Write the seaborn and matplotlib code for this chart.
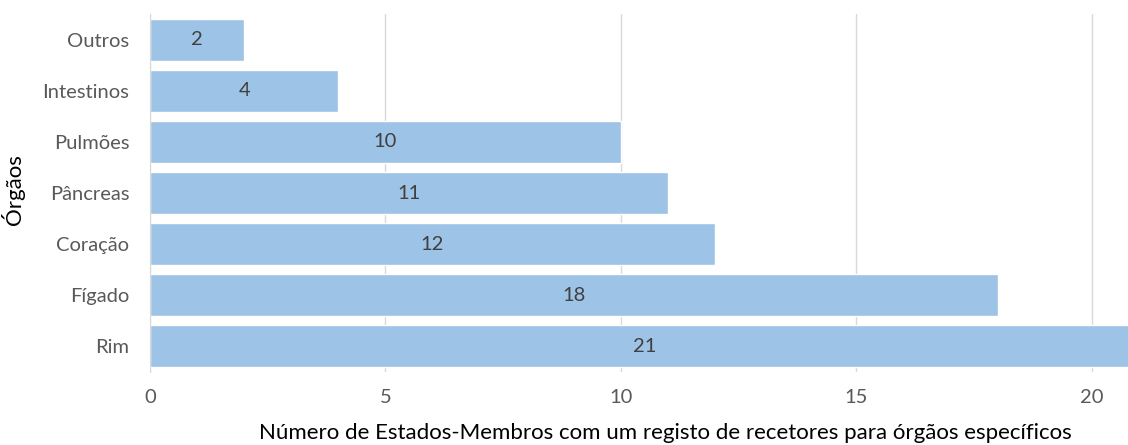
import pandas as pd
import seaborn as sns
import matplotlib.pyplot as plt

orgaos = ['Outros', 'Intestinos', 'Pulmões', 'Pâncreas', 'Coração', 'Fígado', 'Rim']
num_estados = [2, 4, 10, 11, 12, 18, 21]

df = pd.DataFrame({'Órgãos': orgaos, 'Estados': num_estados})

sns.set_style('white')
plt.rcParams['font.family'] = ['Lato', 'DejaVu Sans']

fig = plt.figure(figsize=(11.28, 4.45), dpi=100)
ax = fig.add_axes([150 / 1128, 1 - 372 / 445, (1128 - 150) / 1128, (372 - 14) / 445])

sns.barplot(data=df, x='Estados', y='Órgãos', color='#9DC3E6', saturation=1,
            width=0.82, ax=ax, zorder=2)

for i, v in enumerate(num_estados):
    ax.text(v / 2, i, str(v), ha='center', va='center', fontsize=14.5, color='#404040', zorder=3)

ax.set_xlim(0, 20.77)
ax.set_ylim(6.5, -0.5)
ax.set_xticks([0, 5, 10, 15, 20])
ax.grid(axis='x', color='#D9D9D9', linewidth=1, zorder=0)
ax.grid(axis='y', visible=False)
for s in ['top', 'right', 'bottom']:
    ax.spines[s].set_visible(False)
ax.spines['left'].set_color('#D9D9D9')
ax.tick_params(axis='both', length=0, labelsize=14.5, labelcolor='#595959')
ax.tick_params(axis='x', pad=12)
ax.tick_params(axis='y', pad=15)

ax.set_xlabel('Número de Estados-Membros com um registo de recetores para órgãos específicos',
              fontsize=16, color='black')
ax.xaxis.set_label_coords((665 - 150) / 978, -(423 - 372) / 358, transform=ax.transAxes)
ax.set_ylabel('Órgãos', fontsize=16, color='black')
ax.yaxis.set_label_coords(-(150 - 25) / 978, (372 - 190) / 358, transform=ax.transAxes)

fig.savefig('out.png', dpi=100)
